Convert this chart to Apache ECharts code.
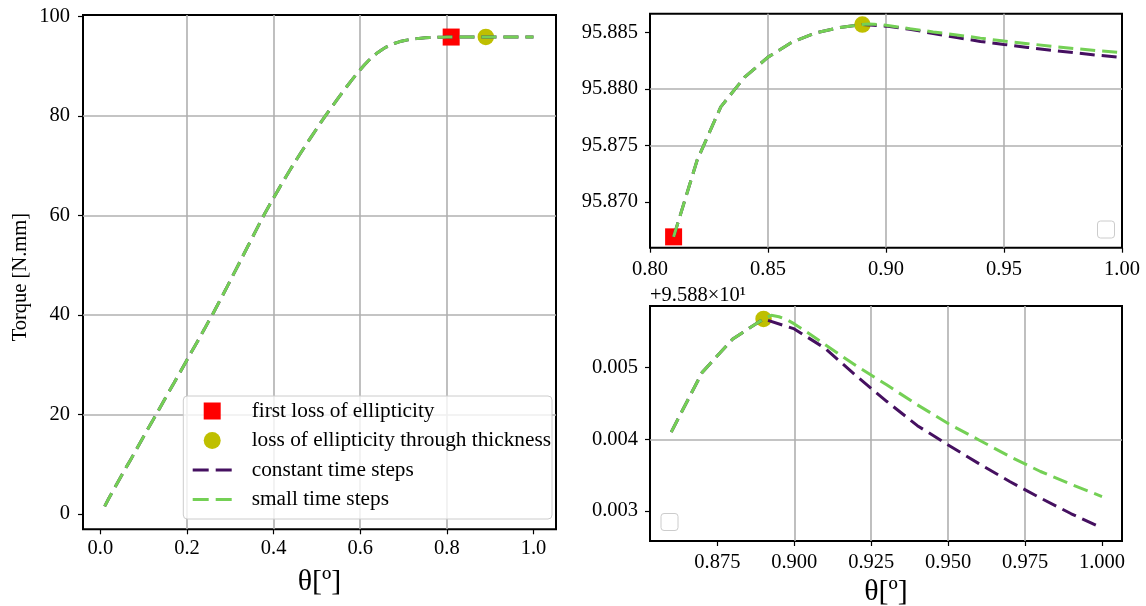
<!DOCTYPE html>
<html>
<head>
<meta charset="utf-8">
<script src="https://cdn.jsdelivr.net/npm/echarts@6/dist/echarts.min.js"></script>
<style>
  html, body { margin: 0; padding: 0; background: #ffffff; }
  #chart { width: 1146px; height: 606px; }
</style>
</head>
<body>
<div id="chart"></div>
<script>
// Rotation angle (deg) during the loading phase, shared by both runs up to 0.89
const thetaLoad = [
  0.01, 0.02, 0.03, 0.04, 0.05, 0.06, 0.07, 0.08, 0.09, 0.10,
  0.11, 0.12, 0.13, 0.14, 0.15, 0.16, 0.17, 0.18, 0.19, 0.20,
  0.21, 0.22, 0.23, 0.24, 0.25, 0.26, 0.27, 0.28, 0.29, 0.30,
  0.31, 0.32, 0.33, 0.34, 0.35, 0.36, 0.37, 0.38, 0.39, 0.40,
  0.41, 0.42, 0.43, 0.44, 0.45, 0.46, 0.47, 0.48, 0.49, 0.50,
  0.51, 0.52, 0.53, 0.54, 0.55, 0.56, 0.57, 0.58, 0.59, 0.60,
  0.61, 0.62, 0.63, 0.64, 0.65, 0.66, 0.67, 0.68, 0.69, 0.70,
  0.71, 0.72, 0.73, 0.74, 0.75, 0.76, 0.77, 0.78, 0.79, 0.80,
  0.81, 0.82, 0.83, 0.84, 0.85, 0.86, 0.87, 0.88, 0.89
];
// Torque (N.mm) during the loading phase
const torqueLoad = [
  1.5, 3.2, 4.75, 6.3, 7.85, 9.4, 10.9, 12.45, 14.0, 15.55,
  17.1, 18.6, 20.15, 21.7, 23.25, 24.8, 26.3, 27.85, 29.4, 30.95,
  32.5, 34.0, 35.55, 37.1, 38.7, 40.25, 41.9, 43.55, 45.2, 46.9,
  48.6, 50.3, 52.0, 53.7, 55.4, 57.1, 58.8, 60.45, 62.0, 63.53,
  65.04, 66.53, 68.0, 69.44, 70.85, 72.2, 73.55, 74.88, 76.2, 77.5,
  78.8, 80.05, 81.3, 82.5, 83.7, 84.88, 86.03, 87.15, 88.25, 89.3,
  90.3, 91.2, 92.02, 92.72, 93.33, 93.85, 94.28, 94.63, 94.91, 95.13,
  95.3, 95.44, 95.55, 95.64, 95.71, 95.76, 95.8, 95.828, 95.847, 95.8598,
  95.8669, 95.8737, 95.8784, 95.8810, 95.8828, 95.8841, 95.88493, 95.8854, 95.88568
];

// Post-peak branch, constant time steps
const thetaConstTail = [0.90, 0.91, 0.92, 0.93, 0.94, 0.95, 0.96, 0.97, 0.98, 0.99, 1.00];
const torqueConstTail = [95.88554, 95.88527, 95.88489, 95.88453, 95.88419, 95.88392,
                         95.88366, 95.88341, 95.88318, 95.88296, 95.88276];

// Post-peak branch, small time steps
const thetaSmallTail = [0.8925, 0.895, 0.8975, 0.90, 0.905, 0.91, 0.92, 0.93,
                        0.94, 0.95, 0.96, 0.97, 0.98, 0.99, 1.00];
const torqueSmallTail = [95.88573, 95.88571, 95.88567, 95.88561, 95.88547, 95.88532, 95.88503, 95.88476,
                         95.88448, 95.88422, 95.88399, 95.88376, 95.88355, 95.88337, 95.88320];

// Instability markers [theta, torque]
const firstLoss = [0.81, 95.8669];
const thicknessLoss = [0.89, 95.88568];

// Tick values of the three panels
const fullXTicks = [0, 0.2, 0.4, 0.6, 0.8, 1.0];
const fullYTicks = [0, 20, 40, 60, 80, 100];
const zoomXTicks = [0.80, 0.85, 0.90, 0.95, 1.00];
const zoomYTicks = [95.870, 95.875, 95.880, 95.885];
const detailXTicks = [0.875, 0.900, 0.925, 0.950, 0.975, 1.000];
const detailYTicks = [95.883, 95.884, 95.885];
const detailOffset = 95.88;

const seriesNames = ['first loss of ellipticity', 'loss of ellipticity through thickness',
                     'constant time steps', 'small time steps'];

// ---------------------------------------------------------------------------
const FONT = 'Liberation Serif';
const GRID_GRAY = '#b0b0b0';
const C_CONST = '#451060';
const C_SMALL = '#74d055';
const DASH = [15, 7];
const DASH_ICON = 'path://M0,0H16V3H0ZM23,0H39V3H23Z';
const SQUARE_ICON = 'path://M0,0H17V17H0Z';

const zip = (xs, ys) => xs.map((x, i) => [x, ys[i]]);
const constData = zip(thetaLoad.concat(thetaConstTail), torqueLoad.concat(torqueConstTail));
const smallData = zip(thetaLoad.concat(thetaSmallTail), torqueLoad.concat(torqueSmallTail));
const from = (data, t0) => data.filter(p => p[0] >= t0 - 1e-9);

function axis(gridIndex, min, max, ticks, fmt, margin, extra) {
  return Object.assign({
    type: 'value', gridIndex, min, max,
    axisLine: { show: false, onZero: false },
    axisTick: { show: true, inside: false, length: 5, customValues: ticks,
                lineStyle: { color: '#000', width: 1.2 } },
    axisLabel: { customValues: ticks, formatter: fmt, margin,
                 fontFamily: FONT, fontSize: 20.5, color: '#000' },
    splitLine: { show: true, showMinLine: false, showMaxLine: false,
                 lineStyle: { color: GRID_GRAY, width: 1.6 } }
  }, extra || {});
}

function lineSeries(name, data, xi, color) {
  return {
    type: 'line', name, data, xAxisIndex: xi, yAxisIndex: xi,
    symbol: 'none', showSymbol: false, clip: true, silent: true,
    lineStyle: { color, width: 3, type: DASH, cap: 'butt' },
    itemStyle: { color }, emphasis: { disabled: true }
  };
}
function markerSeries(name, point, xi, shape, color, size) {
  return {
    type: 'scatter', name, data: [point], xAxisIndex: xi, yAxisIndex: xi,
    symbol: shape, symbolSize: size, silent: true, clip: true,
    itemStyle: { color, opacity: 1 }, emphasis: { disabled: true }
  };
}

const gridBox = { show: true, borderColor: '#000', borderWidth: 2, backgroundColor: 'transparent',
                  containLabel: false, outerBoundsMode: 'none' };

const option = {
  animation: false,
  backgroundColor: '#ffffff',
  grid: [
    Object.assign({ left: 83, top: 15, width: 473, height: 514.3 }, gridBox),
    Object.assign({ left: 650, top: 13.7, width: 472, height: 234 }, gridBox),
    Object.assign({ left: 650, top: 306, width: 472, height: 235 }, gridBox)
  ],
  xAxis: [
    axis(0, -0.04, 1.052, fullXTicks, v => v.toFixed(1), 9, {
      name: 'θ[º]', nameLocation: 'middle', nameGap: 38,
      nameTextStyle: { fontFamily: FONT, fontSize: 30, color: '#000' }
    }),
    axis(1, 0.80, 1.00, zoomXTicks, v => v.toFixed(2), 11),
    axis(2, 0.8531, 1.0065, detailXTicks, v => v.toFixed(3), 11, {
      name: 'θ[º]', nameLocation: 'middle', nameGap: 36,
      nameTextStyle: { fontFamily: FONT, fontSize: 30, color: '#000' }
    })
  ],
  yAxis: [
    axis(0, -3.1, 100.3, fullYTicks, v => String(Math.round(v)), 13, {
      name: 'Torque [N.mm]', nameLocation: 'middle', nameGap: 52,
      nameTextStyle: { fontFamily: FONT, fontSize: 20.5, color: '#000', padding: [0, 10, 0, 0] }
    }),
    axis(1, 95.86594, 95.88664, zoomYTicks, v => v.toFixed(3), 12),
    axis(2, 95.88258, 95.88586, detailYTicks, v => (v - detailOffset).toFixed(3), 12, {
      name: '+9.588×10¹', nameLocation: 'end', nameGap: 0,
      nameTextStyle: { fontFamily: FONT, fontSize: 20.5, color: '#000',
                       align: 'left', verticalAlign: 'bottom' }
    })
  ],
  legend: {
    data: [
      { name: seriesNames[0], icon: SQUARE_ICON },
      { name: seriesNames[1], icon: 'circle' },
      { name: seriesNames[2], icon: DASH_ICON },
      { name: seriesNames[3], icon: DASH_ICON }
    ],
    orient: 'vertical', left: 183.3, top: 396,
    itemWidth: 39, itemHeight: 17, itemGap: 8.5,
    padding: [4.5, 1, 9, 9.4],
    backgroundColor: 'rgba(255,255,255,0.8)',
    borderColor: '#cccccc', borderWidth: 1, borderRadius: 4,
    selectedMode: false,
    itemStyle: { borderWidth: 0 },
    textStyle: { fontFamily: FONT, fontSize: 21.3, color: '#000', padding: [0, 0, 0, 15], width: 293 }
  },
  graphic: [
    { type: 'rect', left: 1097, top: 220.5, silent: true, z: 10,
      shape: { width: 17, height: 17, r: 3 },
      style: { fill: 'rgba(255,255,255,0.8)', stroke: '#cccccc', lineWidth: 1 } },
    { type: 'rect', left: 660.5, top: 513, silent: true, z: 10,
      shape: { width: 17, height: 17, r: 3 },
      style: { fill: 'rgba(255,255,255,0.8)', stroke: '#cccccc', lineWidth: 1 } }
  ],
  series: [
    // full loading curve
    markerSeries(seriesNames[0], firstLoss, 0, 'rect', '#ff0000', 17),
    markerSeries(seriesNames[1], thicknessLoss, 0, 'circle', '#bfbf00', 16.5),
    lineSeries(seriesNames[2], constData, 0, C_CONST),
    lineSeries(seriesNames[3], smallData, 0, C_SMALL),
    // from the first loss of ellipticity
    markerSeries(seriesNames[0], firstLoss, 1, 'rect', '#ff0000', 17),
    markerSeries(seriesNames[1], thicknessLoss, 1, 'circle', '#bfbf00', 16.5),
    lineSeries(seriesNames[2], from(constData, firstLoss[0]), 1, C_CONST),
    lineSeries(seriesNames[3], from(smallData, firstLoss[0]), 1, C_SMALL),
    // around the peak torque
    markerSeries(seriesNames[1], thicknessLoss, 2, 'circle', '#bfbf00', 16.5),
    lineSeries(seriesNames[2], from(constData, 0.86), 2, C_CONST),
    lineSeries(seriesNames[3], from(smallData, 0.86), 2, C_SMALL)
  ]
};

const chart = echarts.init(document.getElementById('chart'), null, { renderer: 'canvas' });
chart.setOption(option);
</script>
</body>
</html>
